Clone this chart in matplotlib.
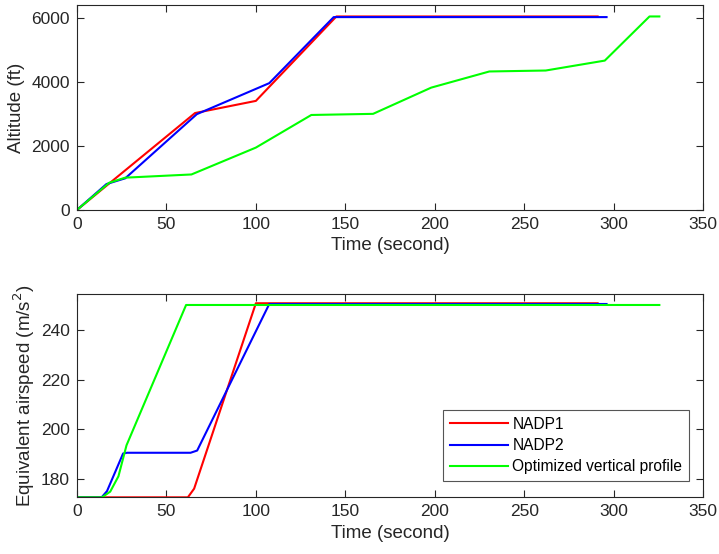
import matplotlib.pyplot as plt

plt.rcParams['font.family'] = ['Liberation Sans', 'DejaVu Sans']

# altitude profiles (time s, altitude ft)
t_alt_nadp1 = [0, 66, 100, 145, 291]
alt_nadp1 = [0, 3030, 3410, 6050, 6050]

t_alt_nadp2 = [0, 16.5, 27, 67, 107.5, 143.5, 296]
alt_nadp2 = [0, 810, 990, 2995, 3965, 6030, 6030]

t_alt_opt = [0, 18, 27, 64, 100, 131, 165.5, 198, 230.5, 262, 295, 320, 325.5]
alt_opt = [0, 850, 1010, 1110, 1950, 2970, 3005, 3825, 4330, 4360, 4670, 6050, 6050]

# equivalent airspeed profiles
t_eas_nadp1 = [0, 62, 65.5, 100, 291]
eas_nadp1 = [172.5, 172.5, 176, 250.9, 250.9]

t_eas_nadp2 = [0, 13.8, 16.8, 25.8, 28, 63.5, 67.2, 107.5, 296]
eas_nadp2 = [172.5, 172.5, 175, 190.2, 190.5, 190.5, 191.4, 250.6, 250.6]

t_eas_opt = [0, 14, 18.6, 23.2, 27.7, 61, 325.5]
eas_opt = [172.5, 172.5, 174.8, 181, 193.5, 250.2, 250.2]

labels = ['NADP1', 'NADP2', 'Optimized vertical profile']
colors = ['#ff0000', '#0000ff', '#00ff00']

fig = plt.figure(figsize=(7.19, 5.54), dpi=100)
ax1 = fig.add_axes([0.107, 0.621, 0.871, 0.3695])
ax2 = fig.add_axes([0.107, 0.1023, 0.871, 0.3664])

for t, a, c in zip([t_alt_nadp1, t_alt_nadp2, t_alt_opt],
                   [alt_nadp1, alt_nadp2, alt_opt], colors):
    ax1.plot(t, a, color=c, lw=1.5)

for t, v, c, lab in zip([t_eas_nadp1, t_eas_nadp2, t_eas_opt],
                        [eas_nadp1, eas_nadp2, eas_opt], colors, labels):
    ax2.plot(t, v, color=c, lw=1.5, label=lab)

ax1.set_xlim(0, 350)
ax1.set_ylim(0, 6400)
ax1.set_yticks([0, 2000, 4000, 6000])
ax1.set_ylabel('Altitude (ft)', fontsize=13.5, color='#262626', labelpad=5)
ax1.set_xlabel('Time (second)', fontsize=13.5, color='#262626', labelpad=4)

ax2.set_xlim(0, 350)
ax2.set_ylim(172.5, 254.5)
ax2.set_yticks([180, 200, 220, 240])
ax2.set_ylabel('Equivalent airspeed (m/s$^2$)', fontsize=13.5, color='#262626',
               labelpad=3)
ax2.set_xlabel('Time (second)', fontsize=13.5, color='#262626', labelpad=4)

for ax in (ax1, ax2):
    ax.set_xticks(range(0, 351, 50))
    ax.tick_params(direction='in', top=True, right=True, labelsize=12.5,
                   colors='#262626', length=5, width=0.8, pad=5)
    for s in ax.spines.values():
        s.set_color('#262626')
        s.set_linewidth(0.8)

leg = ax2.legend(loc='lower right', bbox_to_anchor=(0.978, 0.079),
                 fontsize=11.2, fancybox=False, framealpha=1,
                 edgecolor='#555555', handlelength=3.7, handletextpad=0.3,
                 borderaxespad=0, borderpad=0.45, labelspacing=0.4)
leg.get_frame().set_linewidth(0.8)

fig.savefig('out.png', dpi=100)
